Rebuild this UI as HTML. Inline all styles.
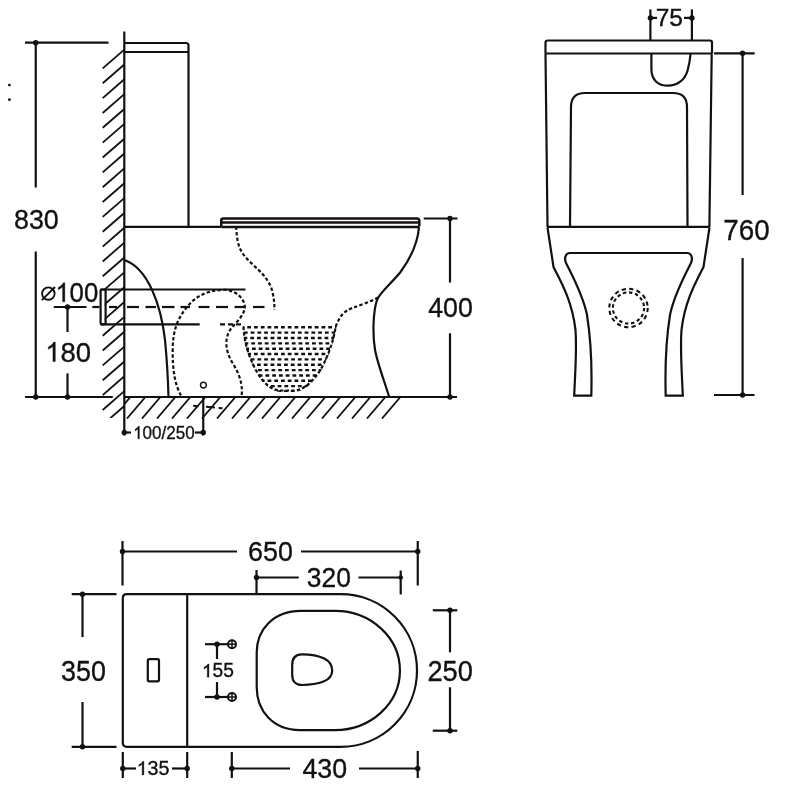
<!DOCTYPE html>
<html><head><meta charset="utf-8"><style>
html,body{margin:0;padding:0;background:#fff;width:800px;height:800px;overflow:hidden}
svg{display:block;filter:blur(0.45px)}
text{font-family:"Liberation Sans",sans-serif;fill:#141010;stroke:#141010;stroke-width:0.35px}
.one{fill:#141010;stroke:#141010;stroke-width:0.35px;vector-effect:non-scaling-stroke}
</style></head><body>
<svg width="800" height="800" viewBox="0 0 800 800">
<rect width="800" height="800" fill="#fff"/>
<g stroke="#141010" fill="none" stroke-linecap="butt">
<line x1="25" y1="42.7" x2="108.5" y2="42.7" stroke-width="2.2" />
<circle cx="35.75" cy="42.7" r="2.7" fill="#141010" stroke="none"/>
<line x1="35.75" y1="42.7" x2="35.75" y2="187.5" stroke-width="2.2" />
<line x1="35.75" y1="251.5" x2="35.75" y2="397" stroke-width="2.2" />
<circle cx="35.75" cy="397" r="2.7" fill="#141010" stroke="none"/>
<text transform="translate(13.99,229.42) scale(0.949,1)" font-size="28.31">830</text>
<circle cx="9.4" cy="85.1" r="1.4" fill="#141010" stroke="none"/>
<circle cx="9.4" cy="99.7" r="1.4" fill="#141010" stroke="none"/>
<line x1="25" y1="397" x2="112.8" y2="397" stroke-width="2.2" />
<line x1="124" y1="397" x2="457" y2="397" stroke-width="2.2" />
<circle cx="450" cy="397" r="2.7" fill="#141010" stroke="none"/>
<line x1="124.3" y1="31.6" x2="124.3" y2="435.5" stroke-width="2.2" />
<circle cx="124.3" cy="432.5" r="2.7" fill="#141010" stroke="none"/>
<clipPath id="cw"><path d="M102,40 L124.3,40 L124.3,418 L102,418 L102,324.5 L104.7,324.5 L104.7,289.5 L102,289.5 Z"/></clipPath>
<g clip-path="url(#cw)">
<line x1="102.7" y1="68.4" x2="124.3" y2="49.6" stroke-width="1.8" />
<line x1="102.7" y1="83.25" x2="124.3" y2="64.45" stroke-width="1.8" />
<line x1="102.7" y1="98.1" x2="124.3" y2="79.3" stroke-width="1.8" />
<line x1="102.7" y1="112.94999999999999" x2="124.3" y2="94.14999999999999" stroke-width="1.8" />
<line x1="102.7" y1="127.79999999999998" x2="124.3" y2="108.99999999999999" stroke-width="1.8" />
<line x1="102.7" y1="142.64999999999998" x2="124.3" y2="123.84999999999998" stroke-width="1.8" />
<line x1="102.7" y1="157.5" x2="124.3" y2="138.7" stroke-width="1.8" />
<line x1="102.7" y1="172.35" x2="124.3" y2="153.54999999999998" stroke-width="1.8" />
<line x1="102.7" y1="187.2" x2="124.3" y2="168.39999999999998" stroke-width="1.8" />
<line x1="102.7" y1="202.04999999999998" x2="124.3" y2="183.24999999999997" stroke-width="1.8" />
<line x1="102.7" y1="216.89999999999998" x2="124.3" y2="198.09999999999997" stroke-width="1.8" />
<line x1="102.7" y1="231.74999999999997" x2="124.3" y2="212.94999999999996" stroke-width="1.8" />
<line x1="102.7" y1="246.59999999999997" x2="124.3" y2="227.79999999999995" stroke-width="1.8" />
<line x1="102.7" y1="261.44999999999993" x2="124.3" y2="242.64999999999995" stroke-width="1.8" />
<line x1="102.7" y1="276.29999999999995" x2="124.3" y2="257.49999999999994" stroke-width="1.8" />
<line x1="102.7" y1="291.15" x2="124.3" y2="272.34999999999997" stroke-width="1.8" />
<line x1="102.7" y1="306.0" x2="124.3" y2="287.2" stroke-width="1.8" />
<line x1="102.7" y1="320.85" x2="124.3" y2="302.05" stroke-width="1.8" />
<line x1="102.7" y1="335.70000000000005" x2="124.3" y2="316.90000000000003" stroke-width="1.8" />
<line x1="102.7" y1="350.55000000000007" x2="124.3" y2="331.75000000000006" stroke-width="1.8" />
<line x1="102.7" y1="365.4000000000001" x2="124.3" y2="346.6000000000001" stroke-width="1.8" />
<line x1="102.7" y1="380.2500000000001" x2="124.3" y2="361.4500000000001" stroke-width="1.8" />
<line x1="102.7" y1="395.10000000000014" x2="124.3" y2="376.3000000000001" stroke-width="1.8" />
<line x1="102.7" y1="409.95000000000016" x2="124.3" y2="391.15000000000015" stroke-width="1.8" />
<line x1="102.7" y1="424.8000000000002" x2="124.3" y2="406.00000000000017" stroke-width="1.8" />
<line x1="102.7" y1="439.6500000000002" x2="124.3" y2="420.8500000000002" stroke-width="1.8" />
<line x1="102.7" y1="454.5000000000002" x2="124.3" y2="435.7000000000002" stroke-width="1.8" />
</g>
<clipPath id="cf"><rect x="124.3" y="397" width="276.5" height="22"/></clipPath>
<g clip-path="url(#cf)">
<line x1="112" y1="418.5" x2="130" y2="397.5" stroke-width="1.8" />
<line x1="127" y1="418.5" x2="145" y2="397.5" stroke-width="1.8" />
<line x1="142" y1="418.5" x2="160" y2="397.5" stroke-width="1.8" />
<line x1="157" y1="418.5" x2="175" y2="397.5" stroke-width="1.8" />
<line x1="172" y1="418.5" x2="190" y2="397.5" stroke-width="1.8" />
<line x1="187" y1="418.5" x2="205" y2="397.5" stroke-width="1.8" />
<line x1="202" y1="418.5" x2="220" y2="397.5" stroke-width="1.8" />
<line x1="217" y1="418.5" x2="235" y2="397.5" stroke-width="1.8" />
<line x1="232" y1="418.5" x2="250" y2="397.5" stroke-width="1.8" />
<line x1="247" y1="418.5" x2="265" y2="397.5" stroke-width="1.8" />
<line x1="262" y1="418.5" x2="280" y2="397.5" stroke-width="1.8" />
<line x1="277" y1="418.5" x2="295" y2="397.5" stroke-width="1.8" />
<line x1="292" y1="418.5" x2="310" y2="397.5" stroke-width="1.8" />
<line x1="307" y1="418.5" x2="325" y2="397.5" stroke-width="1.8" />
<line x1="322" y1="418.5" x2="340" y2="397.5" stroke-width="1.8" />
<line x1="337" y1="418.5" x2="355" y2="397.5" stroke-width="1.8" />
<line x1="352" y1="418.5" x2="370" y2="397.5" stroke-width="1.8" />
<line x1="367" y1="418.5" x2="385" y2="397.5" stroke-width="1.8" />
<line x1="382" y1="418.5" x2="400" y2="397.5" stroke-width="1.8" />
</g>
<path d="M124.3,43 L186,43 Q188.5,43 188.5,45.5 L188.5,226.5" stroke-width="2.2" fill="none" />
<line x1="124.3" y1="52" x2="188.5" y2="52" stroke-width="2.2" />
<line x1="124.3" y1="226.8" x2="221" y2="226.8" stroke-width="2.2" />
<path d="M221.25,227 L221.25,220.6 Q221.25,218.6 223.5,218.6 L417,218.6 Q419.3,218.6 419.3,220.9 L419.3,226.5" stroke-width="2.5" fill="none" />
<line x1="221.25" y1="227" x2="419" y2="227" stroke-width="2.5" />
<line x1="221.25" y1="222.5" x2="419" y2="222.5" stroke-width="2.4" />
<path d="M419,227 C418,240 413,255 400.5,272 C390,285 380,292 377,300 C373,312 372.5,335 375,349.5 C377,362 384,380 389.2,397" stroke-width="2.2" fill="none" />
<path d="M124.3,260 C148,268 161,305 165,340 C167,360 168,380 168.5,397" stroke-width="2.2" fill="none" />
<rect x="100.6" y="289.5" width="5" height="34.8" rx="1.2" fill="none" stroke-width="2.2"/>
<line x1="100.6" y1="289.5" x2="245.5" y2="289.5" stroke-width="2.2" />
<line x1="100.6" y1="324.3" x2="199.7" y2="324.3" stroke-width="2.2" />
<line x1="220" y1="324.3" x2="243" y2="324.3" stroke-width="2.2" stroke-dasharray="5 3"/>
<line x1="53.75" y1="307" x2="86.5" y2="307" stroke-width="2.2" />
<line x1="92.3" y1="307" x2="99.4" y2="307" stroke-width="2.2" />
<line x1="109" y1="307" x2="117" y2="307" stroke-width="2.2" />
<line x1="127" y1="307" x2="139" y2="307" stroke-width="2.2" />
<line x1="145.5" y1="307" x2="156" y2="307" stroke-width="2.2" />
<line x1="162" y1="307" x2="174.5" y2="307" stroke-width="2.2" />
<line x1="180.5" y1="307" x2="190" y2="307" stroke-width="2.2" />
<line x1="198.5" y1="307" x2="209.5" y2="307" stroke-width="2.2" />
<line x1="216" y1="307" x2="228" y2="307" stroke-width="2.2" />
<line x1="234.5" y1="307" x2="245.5" y2="307" stroke-width="2.2" />
<line x1="253" y1="307" x2="264.5" y2="307" stroke-width="2.2" />
<text transform="translate(55.23,301.82) scale(0.93,1)" font-size="27.75">&#8199;00</text><path class="one" transform="translate(55.23,301.82) scale(0.012601,-0.013550) translate(0,0)" d="M763 0H583V1097Q518 1038 418 979Q318 920 238 891V1057Q382 1125 490 1221Q598 1317 646 1409H763Z"/>
<ellipse cx="48.35" cy="293.6" rx="6.3" ry="6.2" fill="none" stroke-width="1.9"/>
<line x1="41.8" y1="300.2" x2="55" y2="287" stroke-width="1.9" />
<line x1="67.5" y1="307" x2="67.5" y2="332" stroke-width="2.2" />
<line x1="67.5" y1="373.4" x2="67.5" y2="397" stroke-width="2.2" />
<circle cx="67.5" cy="307" r="2.7" fill="#141010" stroke="none"/>
<circle cx="67.5" cy="397" r="2.7" fill="#141010" stroke="none"/>
<text transform="translate(45.09,361.62) scale(0.969,1)" font-size="28.38">&#8199;80</text><path class="one" transform="translate(45.09,361.62) scale(0.013428,-0.013857) translate(0,0)" d="M763 0H583V1097Q518 1038 418 979Q318 920 238 891V1057Q382 1125 490 1221Q598 1317 646 1409H763Z"/>
<path d="M236.25,226.5 C236.5,236 237.5,246 243,254 C248,261 256,267 262,273.5 C267,279 271,285 272.5,292 C274,299 274.5,304 274.5,310" stroke-width="2.2" fill="none" stroke-dasharray="3.4 2.2"/>
<path d="M181,395.4 C175,385 172.5,370 172.7,350 C172.7,330 178,318 187,307 C195,297 205,291 223,289.75 C233,289.5 243,296 244.7,305.5 C245.5,315 236,322 230,330 C224,340 226,352 232,362 C238,372 243,382 241.7,395.4" stroke-width="2.2" fill="none" stroke-dasharray="3.4 2.2"/>
<path d="M335.7,326.7 C339,318 343,311 352.5,308 C360,305 370,302 378,297.5" stroke-width="2.2" fill="none" stroke-dasharray="3.4 2.2"/>
<path d="M243.5,326.7 C244,342 249,358 257,372 C264,384 272,390.5 281,390.5 L294,390.5 C303,390.5 313,382 321,369 C328,356 333,343 335.7,326.7" stroke-width="2.2" fill="none" stroke-dasharray="3.4 2.2"/>
<clipPath id="cb"><path d="M243,325 L337,325 L336.5,326.7 C334,343 329,356 322,369 C314,383 304,392 294,392 L281,392 C271,392 263,384 256,372 C248,358 243,342 243,326.7 Z"/></clipPath>
<g clip-path="url(#cb)">
<line x1="240.5" y1="327.3" x2="340" y2="327.3" stroke-width="2.4" stroke-dasharray="3.8 2.95"/>
<line x1="243.9" y1="332.65000000000003" x2="340" y2="332.65000000000003" stroke-width="2.4" stroke-dasharray="3.8 2.95"/>
<line x1="243.5" y1="338.00000000000006" x2="340" y2="338.00000000000006" stroke-width="2.4" stroke-dasharray="3.8 2.95"/>
<line x1="244.5" y1="343.3500000000001" x2="340" y2="343.3500000000001" stroke-width="2.4" stroke-dasharray="3.8 2.95"/>
<line x1="245.2" y1="348.7000000000001" x2="340" y2="348.7000000000001" stroke-width="2.4" stroke-dasharray="3.8 2.95"/>
<line x1="240.5" y1="354.0500000000001" x2="340" y2="354.0500000000001" stroke-width="2.4" stroke-dasharray="3.8 2.95"/>
<line x1="243.9" y1="359.40000000000015" x2="340" y2="359.40000000000015" stroke-width="2.4" stroke-dasharray="3.8 2.95"/>
<line x1="243.5" y1="364.75000000000017" x2="340" y2="364.75000000000017" stroke-width="2.4" stroke-dasharray="3.8 2.95"/>
<line x1="244.5" y1="370.1000000000002" x2="340" y2="370.1000000000002" stroke-width="2.4" stroke-dasharray="3.8 2.95"/>
<line x1="245.2" y1="375.4500000000002" x2="340" y2="375.4500000000002" stroke-width="2.4" stroke-dasharray="3.8 2.95"/>
<line x1="240.5" y1="380.80000000000024" x2="340" y2="380.80000000000024" stroke-width="2.4" stroke-dasharray="3.8 2.95"/>
<line x1="243.9" y1="386.15000000000026" x2="340" y2="386.15000000000026" stroke-width="2.4" stroke-dasharray="3.8 2.95"/>
<line x1="243.5" y1="391.5000000000003" x2="340" y2="391.5000000000003" stroke-width="2.4" stroke-dasharray="3.8 2.95"/>
</g>
<circle cx="203.4" cy="385.1" r="2.9" fill="none" stroke-width="1.4"/>
<line x1="193.2" y1="405.8" x2="222.6" y2="408.2" stroke-width="2.0" stroke-dasharray="5.3 7.5 9 3.8 3.8 100"/>
<line x1="203.25" y1="397" x2="203.25" y2="435.5" stroke-width="2.2" />
<line x1="124.3" y1="432.5" x2="131" y2="432.5" stroke-width="2.2" />
<line x1="195" y1="432.5" x2="203.25" y2="432.5" stroke-width="2.2" />
<circle cx="203.25" cy="432.5" r="2.7" fill="#141010" stroke="none"/>
<text transform="translate(133.04,438.82) scale(0.928,1)" font-size="18.37">&#8199;00/250</text><path class="one" transform="translate(133.04,438.82) scale(0.008324,-0.008970) translate(0,0)" d="M763 0H583V1097Q518 1038 418 979Q318 920 238 891V1057Q382 1125 490 1221Q598 1317 646 1409H763Z"/>
<line x1="423.7" y1="218.5" x2="457.5" y2="218.5" stroke-width="2.2" />
<circle cx="450" cy="218.5" r="2.7" fill="#141010" stroke="none"/>
<line x1="450" y1="218.5" x2="450" y2="282.5" stroke-width="2.2" />
<line x1="450" y1="333.3" x2="450" y2="397" stroke-width="2.2" />
<text transform="translate(428.18,316.72) scale(0.955,1)" font-size="28.03">400</text>
<path d="M545.5,53.5 L545.5,42.7 Q545.5,40.5 547.7,40.5 L709.8,40.5 Q712,40.5 712,42.7 L712,53.5" stroke-width="2.2" fill="none" />
<line x1="545.5" y1="53.5" x2="712" y2="53.5" stroke-width="2.2" />
<line x1="714" y1="53.3" x2="754.7" y2="53.3" stroke-width="2.2" />
<circle cx="742.6" cy="53.3" r="2.7" fill="#141010" stroke="none"/>
<line x1="545.5" y1="53.5" x2="547.5" y2="227" stroke-width="2.2" />
<line x1="711.7" y1="53.5" x2="709.4" y2="227" stroke-width="2.2" />
<line x1="547" y1="226.9" x2="709.6" y2="226.9" stroke-width="2.2" />
<path d="M570,226 L571,107 Q571,93 585,93 L673,93 Q687,93 687,107 L687.5,226" stroke-width="2.2" fill="none" />
<path d="M651.4,53.5 L651.4,69 C651.4,80 658,85.7 668,85.7 C678,85.7 685,79.5 687.6,70.5 C689.2,64.5 690.2,58.5 690.6,53.5" stroke-width="2.2" fill="none" />
<line x1="650.4" y1="9.4" x2="650.4" y2="40.25" stroke-width="2.2" />
<line x1="691.9" y1="9.4" x2="691.9" y2="40.25" stroke-width="2.2" />
<line x1="650.4" y1="17.9" x2="657" y2="17.9" stroke-width="2.2" />
<line x1="684" y1="17.9" x2="691.9" y2="17.9" stroke-width="2.2" />
<circle cx="650.4" cy="17.9" r="2.7" fill="#141010" stroke="none"/>
<circle cx="691.9" cy="17.9" r="2.7" fill="#141010" stroke="none"/>
<text transform="translate(655.67,26.36) scale(1.015,1)" font-size="24.14">75</text>
<path d="M547.5,227.5 L553.5,267 C560,280 572,300 575.5,330 C577,350 575,375 574.2,395.6 L591.3,395.6 C592,370 591,340 587,315 C583,295 572,275 566,263 C564,258 565.5,253 570,253 L630,253" stroke-width="2.2" fill="none" />
<g transform="translate(1257,0) scale(-1,1)">
<path d="M547.5,227.5 L553.5,267 C560,280 572,300 575.5,330 C577,350 575,375 574.2,395.6 L591.3,395.6 C592,370 591,340 587,315 C583,295 572,275 566,263 C564,258 565.5,253 570,253 L630,253" stroke-width="2.2" fill="none" />
</g>
<circle cx="628.5" cy="308" r="19.2" fill="none" stroke-width="2.1" stroke-dasharray="4.2 3.35"/>
<circle cx="628.5" cy="308" r="15.6" fill="none" stroke-width="2.1" stroke-dasharray="3.4 2.73"/>
<line x1="742.6" y1="53.3" x2="742.6" y2="195" stroke-width="2.2" />
<line x1="742.6" y1="258" x2="742.6" y2="395" stroke-width="2.2" />
<line x1="714" y1="395" x2="754.5" y2="395" stroke-width="2.2" />
<circle cx="742.6" cy="395" r="2.7" fill="#141010" stroke="none"/>
<text transform="translate(723.36,240.4) scale(0.934,1)" font-size="29.72">760</text>
<path d="M126.8,594.2 L340.7,594.2 A76.3,76.3 0 0 1 340.7,746.8 L126.8,746.8 Q122.8,746.8 122.8,742.8 L122.8,598.2 Q122.8,594.2 126.8,594.2 Z" stroke-width="2.2" fill="none" />
<line x1="187.2" y1="594.2" x2="187.2" y2="746.8" stroke-width="2.2" />
<rect x="147.8" y="659.2" width="11.2" height="22.1" rx="1.5" fill="none" stroke-width="2.2"/>
<path d="M301,610.9 L335,610.9 A65,59.6 0 0 1 335,730.1 L300,730.1 C273,730.1 256.7,711 256.7,687 L256.7,652.5 C256.7,630 273,610.9 301,610.9 Z" stroke-width="2.2" fill="none" />
<path d="M302,654.3 C310,654.3 318,655.4 324.3,658.5 C329.8,661.4 332.2,665.5 332.2,670.5 C332.2,675.5 329,679.4 323.5,681.6 C317,684.2 309,685 302,685 C295.5,685 292.2,681 292.2,675 L292.2,665 C292.2,658.3 295.5,654.3 302,654.3 Z" stroke-width="2.2" fill="none" />
<line x1="205" y1="644.2" x2="228" y2="644.2" stroke-width="2.2" />
<circle cx="217" cy="644.2" r="2.7" fill="#141010" stroke="none"/>
<circle cx="232" cy="644.2" r="4.0" fill="none" stroke-width="2.0"/>
<line x1="228" y1="644.2" x2="236" y2="644.2" stroke-width="1.5" />
<line x1="232" y1="640.2" x2="232" y2="648.2" stroke-width="1.5" />
<line x1="205" y1="697" x2="228" y2="697" stroke-width="2.2" />
<circle cx="217" cy="697" r="2.7" fill="#141010" stroke="none"/>
<circle cx="232" cy="697" r="4.0" fill="none" stroke-width="2.0"/>
<line x1="228" y1="697" x2="236" y2="697" stroke-width="1.5" />
<line x1="232" y1="693" x2="232" y2="701" stroke-width="1.5" />
<line x1="217" y1="644.2" x2="217" y2="659" stroke-width="2.2" />
<line x1="217" y1="682" x2="217" y2="697" stroke-width="2.2" />
<text transform="translate(201.79,677.31) scale(0.996,1)" font-size="19.29">&#8199;55</text><path class="one" transform="translate(201.79,677.31) scale(0.009381,-0.009419) translate(0,0)" d="M763 0H583V1097Q518 1038 418 979Q318 920 238 891V1057Q382 1125 490 1221Q598 1317 646 1409H763Z"/>
<line x1="122.5" y1="541" x2="122.5" y2="585.5" stroke-width="2.2" />
<line x1="417.75" y1="541" x2="417.75" y2="585.5" stroke-width="2.2" />
<line x1="122.5" y1="551.5" x2="237" y2="551.5" stroke-width="2.2" />
<line x1="301" y1="551.5" x2="417.75" y2="551.5" stroke-width="2.2" />
<circle cx="122.5" cy="551.5" r="2.7" fill="#141010" stroke="none"/>
<circle cx="417.75" cy="551.5" r="2.7" fill="#141010" stroke="none"/>
<text transform="translate(248.06,561.32) scale(0.943,1)" font-size="28.45">650</text>
<line x1="256.5" y1="570" x2="256.5" y2="594.2" stroke-width="2.2" />
<line x1="400.7" y1="570.5" x2="400.7" y2="594.5" stroke-width="2.2" />
<line x1="256.5" y1="577.5" x2="298.75" y2="577.5" stroke-width="2.2" />
<line x1="358.5" y1="577.5" x2="400.7" y2="577.5" stroke-width="2.2" />
<circle cx="256.5" cy="577.5" r="2.7" fill="#141010" stroke="none"/>
<circle cx="400.7" cy="577.5" r="2.3" fill="#141010" stroke="none"/>
<text transform="translate(306.84,587.22) scale(0.942,1)" font-size="28.03">320</text>
<line x1="71.7" y1="594.2" x2="116.5" y2="594.2" stroke-width="2.2" />
<line x1="71.7" y1="746.8" x2="116.5" y2="746.8" stroke-width="2.2" />
<line x1="82.5" y1="594.2" x2="82.5" y2="637" stroke-width="2.2" />
<line x1="82.5" y1="702" x2="82.5" y2="746.8" stroke-width="2.2" />
<circle cx="82.5" cy="594.2" r="2.7" fill="#141010" stroke="none"/>
<circle cx="82.5" cy="746.8" r="2.7" fill="#141010" stroke="none"/>
<text transform="translate(61.02,680.61) scale(0.941,1)" font-size="28.59">350</text>
<line x1="432.8" y1="610.3" x2="457.3" y2="610.3" stroke-width="2.2" />
<line x1="432.8" y1="730.7" x2="457.3" y2="730.7" stroke-width="2.2" />
<line x1="450" y1="610.3" x2="450" y2="652.3" stroke-width="2.2" />
<line x1="450" y1="687.3" x2="450" y2="730.7" stroke-width="2.2" />
<circle cx="450" cy="610.3" r="2.7" fill="#141010" stroke="none"/>
<circle cx="450" cy="730.7" r="2.7" fill="#141010" stroke="none"/>
<text transform="translate(427.49,680.61) scale(0.935,1)" font-size="29.08">250</text>
<line x1="122.8" y1="752" x2="122.8" y2="778" stroke-width="2.2" />
<line x1="187.2" y1="752" x2="187.2" y2="778" stroke-width="2.2" />
<line x1="122.8" y1="768.5" x2="136" y2="768.5" stroke-width="2.2" />
<line x1="172" y1="768.5" x2="187.2" y2="768.5" stroke-width="2.2" />
<circle cx="122.8" cy="768.5" r="2.7" fill="#141010" stroke="none"/>
<circle cx="187.2" cy="768.5" r="2.7" fill="#141010" stroke="none"/>
<text transform="translate(136.53,774.9) scale(1.001,1)" font-size="19.72">&#8199;35</text><path class="one" transform="translate(136.53,774.9) scale(0.009639,-0.009629) translate(0,0)" d="M763 0H583V1097Q518 1038 418 979Q318 920 238 891V1057Q382 1125 490 1221Q598 1317 646 1409H763Z"/>
<line x1="231.8" y1="752" x2="231.8" y2="778" stroke-width="2.2" />
<line x1="417.75" y1="751" x2="417.75" y2="778" stroke-width="2.2" />
<line x1="231.8" y1="768.5" x2="290" y2="768.5" stroke-width="2.2" />
<line x1="359" y1="768.5" x2="417.75" y2="768.5" stroke-width="2.2" />
<circle cx="231.8" cy="768.5" r="2.7" fill="#141010" stroke="none"/>
<circle cx="417.75" cy="768.5" r="2.7" fill="#141010" stroke="none"/>
<text transform="translate(302.43,777.62) scale(0.954,1)" font-size="28.03">430</text>
</g>
</svg>
</body></html>
